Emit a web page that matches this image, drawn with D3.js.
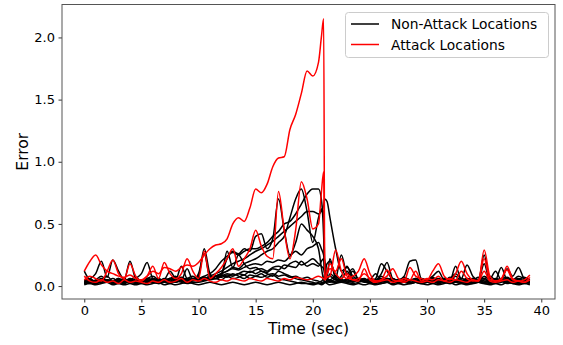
<!DOCTYPE html>
<html>
<head>
<meta charset="utf-8">
<script src="https://cdn.jsdelivr.net/npm/d3@7"></script>
<style>
  html, body { margin: 0; padding: 0; background: #fff; }
  svg { display: block; }
  text { font-family: "DejaVu Sans", sans-serif; fill: #000; }
</style>
</head>
<body>
<svg id="chart" width="563" height="345"></svg>
<script>
// ---------- data ----------
const times = [0,0.5,1,1.5,2,2.5,3,3.5,4,4.5, 5,5.5,6,6.5,7,7.5,8,8.5,9,9.5,
  10,10.5,11,11.5,12,12.5,13,13.5,14,14.5, 15,15.5,16,16.5,17,17.5,18,18.5,19,19.5,
  20,20.5,20.75,20.95,21.05,21.25, 21.5,22,22.5,23,23.5,24,24.5,
  25,25.5,26,26.5,27,27.5,28,28.5,29,29.5, 30,30.5,31,31.5,32,32.5,33,33.5,34,34.5,
  35,35.5,36,36.5,37,37.5,38,38.5,39];

const xTicks = [0,5,10,15,20,25,30,35,40];
const yTicks = [0,0.5,1.0,1.5,2.0];
const legendLabels = ["Non-Attack Locations", "Attack Locations"];

const attack1 = [0.12,0.20,0.25,0.17,0.12,0.10,0.08,0.07,0.09,0.06,
  0.05,0.08,0.12,0.10,0.15,0.14,0.12,0.15,0.17,0.16,
  0.19,0.25,0.30,0.33,0.34,0.38,0.50,0.55,0.52,0.63,
  0.78,0.75,0.82,0.96,1.03,1.04,1.26,1.38,1.55,1.73,
  1.69,1.80,2.00,2.15,0.05,0.07,
  0.08,0.29,0.12,0.06,0.08,0.12,0.22,
  0.10,0.04,0.05,0.08,0.14,0.06,0.04,0.15,0.08,0.06,
  0.05,0.12,0.18,0.08,0.05,0.10,0.20,0.10,0.05,0.04,
  0.29,0.08,0.04,0.05,0.16,0.06,0.04,0.05,0.09];

const attack2 = [0.05,0.08,0.06,0.04,0.12,0.21,0.10,0.06,0.18,0.08,
  0.04,0.08,0.16,0.06,0.19,0.10,0.06,0.10,0.22,0.12,
  0.06,0.28,0.06,0.10,0.15,0.22,0.30,0.16,0.22,0.30,
  0.45,0.32,0.24,0.22,0.76,0.45,0.22,0.45,0.84,0.70,
  0.46,0.50,0.75,0.92,0.06,0.10,
  0.14,0.12,0.22,0.08,0.05,0.06,0.10,
  0.06,0.04,0.05,0.13,0.05,0.04,0.06,0.05,0.12,0.04,
  0.06,0.05,0.08,0.04,0.06,0.05,0.12,0.06,0.04,0.05,
  0.22,0.05,0.04,0.06,0.13,0.05,0.04,0.03,0.07];

const attack3 = [0.08,0.04,0.03,0.05,0.03,0.04,0.02,0.05,0.03,0.04,
  0.03,0.02,0.04,0.03,0.05,0.03,0.04,0.06,0.03,0.05,
  0.04,0.06,0.04,0.03,0.05,0.04,0.06,0.05,0.04,0.06,
  0.05,0.04,0.06,0.05,0.04,0.06,0.05,0.07,0.06,0.05,
  0.06,0.08,0.07,0.06,0.05,0.12,
  0.18,0.10,0.06,0.10,0.05,0.04,0.14,
  0.05,0.03,0.04,0.05,0.03,0.04,0.03,0.05,0.04,0.03,
  0.04,0.03,0.05,0.04,0.03,0.05,0.04,0.03,0.05,0.04,
  0.12,0.04,0.03,0.04,0.05,0.03,0.04,0.03,0.05];

const nonAttack1 = [0.03,0.04,0.03,0.05,0.04,0.03,0.05,0.04,0.03,0.04,
  0.05,0.04,0.03,0.05,0.04,0.06,0.05,0.04,0.06,0.05,
  0.06,0.08,0.10,0.14,0.20,0.24,0.27,0.25,0.28,0.30,
  0.30,0.32,0.35,0.40,0.44,0.50,0.52,0.58,0.66,0.74,
  0.78,0.78,0.70,0.40,0.10,0.04,
  0.03,0.04,0.05,0.03,0.04,0.05,0.03,
  0.03,0.02,0.04,0.03,0.02,0.03,0.04,0.02,0.03,0.02,
  0.03,0.04,0.02,0.03,0.02,0.04,0.03,0.02,0.03,0.04,
  0.03,0.02,0.03,0.04,0.02,0.03,0.02,0.03,0.02];

const nonAttack2 = [0.12,0.05,0.04,0.03,0.05,0.04,0.06,0.04,0.05,0.03,
  0.04,0.06,0.05,0.04,0.06,0.05,0.07,0.05,0.06,0.08,
  0.05,0.07,0.06,0.08,0.10,0.12,0.15,0.14,0.18,0.20,
  0.22,0.25,0.28,0.30,0.35,0.40,0.55,0.70,0.78,0.60,
  0.35,0.55,0.62,0.60,0.12,0.05,
  0.05,0.08,0.04,0.06,0.12,0.05,0.04,
  0.05,0.10,0.04,0.06,0.05,0.04,0.06,0.05,0.04,0.05,
  0.04,0.06,0.05,0.04,0.07,0.05,0.04,0.06,0.05,0.04,
  0.08,0.05,0.04,0.05,0.06,0.04,0.05,0.04,0.05];

const nonAttack3 = [0.02,0.03,0.05,0.08,0.04,0.03,0.04,0.03,0.05,0.04,
  0.03,0.05,0.04,0.03,0.05,0.04,0.03,0.05,0.04,0.06,
  0.04,0.05,0.06,0.08,0.10,0.22,0.28,0.26,0.30,0.28,
  0.40,0.42,0.30,0.38,0.70,0.45,0.25,0.35,0.50,0.45,
  0.40,0.30,0.15,0.05,0.03,0.03,
  0.04,0.03,0.05,0.04,0.03,0.05,0.04,
  0.03,0.05,0.04,0.03,0.05,0.04,0.03,0.04,0.05,0.03,
  0.04,0.05,0.03,0.04,0.03,0.05,0.04,0.03,0.04,0.05,
  0.04,0.03,0.05,0.04,0.03,0.04,0.05,0.03,0.04];

const nonAttack4 = [0.04,0.03,0.02,0.03,0.04,0.03,0.02,0.04,0.03,0.02,
  0.03,0.04,0.03,0.02,0.04,0.03,0.05,0.04,0.03,0.04,
  0.05,0.06,0.08,0.10,0.12,0.15,0.18,0.20,0.22,0.25,
  0.28,0.30,0.33,0.36,0.40,0.44,0.48,0.52,0.56,0.60,
  0.60,0.58,0.60,0.65,0.70,0.68,
  0.55,0.30,0.12,0.15,0.08,0.05,0.04,
  0.03,0.04,0.03,0.05,0.04,0.03,0.04,0.03,0.04,0.03,
  0.03,0.04,0.03,0.04,0.03,0.04,0.03,0.04,0.03,0.04,
  0.03,0.04,0.03,0.04,0.03,0.04,0.03,0.04,0.03];

const nonAttack5 = [0.03,0.05,0.04,0.06,0.04,0.03,0.05,0.04,0.06,0.04,
  0.05,0.04,0.06,0.05,0.04,0.06,0.05,0.07,0.05,0.06,
  0.04,0.05,0.06,0.08,0.10,0.12,0.14,0.13,0.15,0.17,
  0.18,0.17,0.20,0.19,0.21,0.20,0.24,0.28,0.25,0.30,
  0.32,0.35,0.30,0.25,0.20,0.08,
  0.22,0.06,0.04,0.05,0.04,0.06,0.05,
  0.04,0.05,0.06,0.04,0.05,0.04,0.06,0.05,0.04,0.05,
  0.05,0.04,0.05,0.06,0.04,0.05,0.04,0.05,0.06,0.04,
  0.05,0.04,0.06,0.05,0.04,0.05,0.06,0.04,0.05];

const nonAttack6 = [0.02,0.03,0.02,0.04,0.03,0.02,0.03,0.02,0.04,0.03,
  0.02,0.03,0.04,0.02,0.03,0.02,0.04,0.03,0.02,0.03,
  0.03,0.04,0.05,0.06,0.08,0.10,0.09,0.10,0.12,0.11,
  0.13,0.14,0.12,0.15,0.16,0.14,0.18,0.20,0.17,0.19,
  0.22,0.18,0.16,0.14,0.10,0.06,
  0.04,0.03,0.04,0.03,0.02,0.03,0.04,
  0.02,0.03,0.02,0.03,0.04,0.02,0.03,0.02,0.03,0.02,
  0.03,0.02,0.03,0.04,0.02,0.03,0.02,0.03,0.02,0.03,
  0.02,0.03,0.02,0.03,0.04,0.02,0.03,0.02,0.03];

const nonAttack7 = [0.05,0.06,0.10,0.20,0.07,0.21,0.12,0.05,0.04,0.06,
  0.10,0.19,0.06,0.05,0.04,0.06,0.05,0.16,0.06,0.05,
  0.08,0.30,0.10,0.06,0.08,0.28,0.15,0.25,0.18,0.14,
  0.15,0.12,0.10,0.08,0.12,0.10,0.08,0.06,0.05,0.04,
  0.03,0.02,0.02,0.02,0.03,0.04,
  0.04,0.06,0.25,0.10,0.14,0.05,0.04,
  0.06,0.05,0.10,0.19,0.06,0.05,0.08,0.20,0.21,0.06,
  0.05,0.08,0.12,0.05,0.06,0.10,0.06,0.17,0.08,0.05,
  0.25,0.06,0.12,0.05,0.14,0.08,0.15,0.06,0.04];

const nonAttack8 = [0.02,0.03,0.04,0.05,0.04,0.06,0.04,0.05,0.20,0.06,
  0.04,0.06,0.05,0.04,0.05,0.12,0.06,0.05,0.14,0.05,
  0.10,0.26,0.07,0.06,0.05,0.08,0.06,0.07,0.09,0.06,
  0.08,0.07,0.09,0.10,0.08,0.09,0.07,0.08,0.06,0.07,
  0.05,0.04,0.03,0.03,0.05,0.06,
  0.08,0.05,0.08,0.16,0.06,0.04,0.05,
  0.04,0.06,0.18,0.12,0.05,0.04,0.06,0.05,0.04,0.06,
  0.05,0.04,0.05,0.06,0.04,0.16,0.05,0.04,0.06,0.05,
  0.18,0.04,0.05,0.15,0.05,0.04,0.05,0.07,0.05];

const nonAttack9 = [0.03,0.02,0.04,0.03,0.05,0.03,0.04,0.06,0.03,0.04,
  0.05,0.03,0.04,0.06,0.04,0.05,0.03,0.05,0.04,0.06,
  0.05,0.07,0.06,0.08,0.07,0.09,0.08,0.10,0.09,0.12,
  0.10,0.12,0.11,0.14,0.13,0.17,0.16,0.15,0.20,0.16,
  0.18,0.16,0.20,0.22,0.08,0.05,
  0.10,0.06,0.04,0.05,0.04,0.05,0.06,
  0.04,0.05,0.04,0.06,0.05,0.04,0.05,0.04,0.06,0.05,
  0.04,0.05,0.06,0.04,0.05,0.04,0.06,0.05,0.04,0.05,
  0.06,0.04,0.05,0.04,0.06,0.05,0.04,0.05,0.04];

const nonAttack10 = [0.01,0.02,0.01,0.02,0.03,0.01,0.02,0.01,0.02,0.01,
  0.02,0.01,0.02,0.03,0.01,0.02,0.01,0.02,0.03,0.02,
  0.01,0.02,0.03,0.02,0.01,0.02,0.03,0.02,0.01,0.02,
  0.03,0.02,0.01,0.02,0.03,0.02,0.01,0.02,0.03,0.02,
  0.01,0.02,0.01,0.02,0.03,0.02,
  0.01,0.02,0.03,0.02,0.01,0.02,0.01,
  0.02,0.01,0.02,0.03,0.01,0.02,0.01,0.02,0.03,0.02,
  0.01,0.02,0.01,0.02,0.03,0.01,0.02,0.01,0.02,0.03,
  0.02,0.01,0.02,0.01,0.03,0.02,0.01,0.02,0.01];

const nonAttack11 = [0.04,0.06,0.03,0.05,0.08,0.04,0.06,0.03,0.05,0.07,
  0.04,0.06,0.08,0.05,0.03,0.06,0.08,0.04,0.06,0.05,
  0.07,0.05,0.08,0.06,0.09,0.07,0.10,0.08,0.06,0.09,
  0.08,0.10,0.07,0.09,0.06,0.05,0.04,0.03,0.02,0.02,
  0.02,0.03,0.04,0.06,0.10,0.18,
  0.20,0.08,0.06,0.12,0.05,0.06,0.04,
  0.06,0.04,0.08,0.05,0.06,0.04,0.07,0.05,0.06,0.04,
  0.05,0.07,0.04,0.06,0.05,0.08,0.04,0.06,0.05,0.07,
  0.06,0.08,0.05,0.06,0.07,0.05,0.08,0.06,0.04];

const nonAttackSeries = [nonAttack1, nonAttack2, nonAttack3, nonAttack4, nonAttack5, nonAttack6,
  nonAttack7, nonAttack8, nonAttack9, nonAttack10, nonAttack11];
const attackSeries = [attack1, attack2, attack3];

// ---------- layout ----------
const W = 563, H = 345;
const plot = { left: 62, right: 555, top: 4.5, bottom: 299 };

const x = d3.scaleLinear().domain([-1.95, 41.2]).range([plot.left, plot.right]);
const y = d3.scaleLinear().domain([-0.104, 2.265]).range([plot.bottom, plot.top]);

const svg = d3.select("#chart");

svg.append("defs").append("clipPath").attr("id", "clip")
  .append("rect")
  .attr("x", plot.left).attr("y", plot.top)
  .attr("width", plot.right - plot.left).attr("height", plot.bottom - plot.top);

const line = d3.line()
  .x((d, i) => x(times[i]))
  .y(d => y(d))
  .curve(d3.curveMonotoneX);

const g = svg.append("g").attr("clip-path", "url(#clip)");

g.selectAll("path.non")
  .data(nonAttackSeries)
  .join("path")
  .attr("class", "non")
  .attr("d", line)
  .attr("fill", "none")
  .attr("stroke", "#000")
  .attr("stroke-width", 1.5)
  .attr("stroke-linejoin", "round");

g.selectAll("path.att")
  .data(attackSeries)
  .join("path")
  .attr("class", "att")
  .attr("d", line)
  .attr("fill", "none")
  .attr("stroke", "#ff0000")
  .attr("stroke-width", 1.5)
  .attr("stroke-linejoin", "round");

// ---------- axes ----------
const xAxis = d3.axisBottom(x).tickValues(xTicks).tickFormat(d3.format("d"))
  .tickSize(3.5).tickPadding(3.5);
const yAxis = d3.axisLeft(y).tickValues(yTicks).tickFormat(d3.format(".1f"))
  .tickSize(3.5).tickPadding(3.5);

const gx = svg.append("g").attr("transform", `translate(0,${plot.bottom})`).call(xAxis);
const gy = svg.append("g").attr("transform", `translate(${plot.left},0)`).call(yAxis);

[gx, gy].forEach(a => {
  a.select(".domain").remove();
  a.selectAll(".tick line").attr("stroke", "#000").attr("stroke-width", 0.8);
  a.selectAll(".tick text")
    .style("font-family", "'DejaVu Sans', sans-serif")
    .style("font-size", "13px")
    .attr("fill", "#000");
});

// frame
svg.append("rect")
  .attr("x", plot.left).attr("y", plot.top)
  .attr("width", plot.right - plot.left).attr("height", plot.bottom - plot.top)
  .attr("fill", "none").attr("stroke", "#555").attr("stroke-width", 1);

// axis labels
svg.append("text")
  .attr("x", (plot.left + plot.right) / 2).attr("y", 334)
  .attr("text-anchor", "middle")
  .style("font-size", "15.5px")
  .text("Time (sec)");

svg.append("text")
  .attr("transform", `translate(28,${(plot.top + plot.bottom) / 2}) rotate(-90)`)
  .attr("text-anchor", "middle")
  .style("font-size", "15.5px")
  .text("Error");

// ---------- legend ----------
const lg = svg.append("g");
lg.append("rect")
  .attr("x", 345.5).attr("y", 12.5).attr("width", 203).attr("height", 45)
  .attr("rx", 3).attr("ry", 3)
  .attr("fill", "#fff").attr("fill-opacity", 0.8)
  .attr("stroke", "#cccccc").attr("stroke-width", 1);

const legendColors = ["#000", "#ff0000"];
legendLabels.forEach((lab, i) => {
  const yy = 24 + i * 20.5;
  lg.append("line")
    .attr("x1", 351).attr("x2", 379).attr("y1", yy).attr("y2", yy)
    .attr("stroke", legendColors[i]).attr("stroke-width", 1.5);
  lg.append("text")
    .attr("x", 391).attr("y", yy + 5)
    .style("font-size", "13.8px")
    .text(lab);
});
</script>
</body>
</html>
